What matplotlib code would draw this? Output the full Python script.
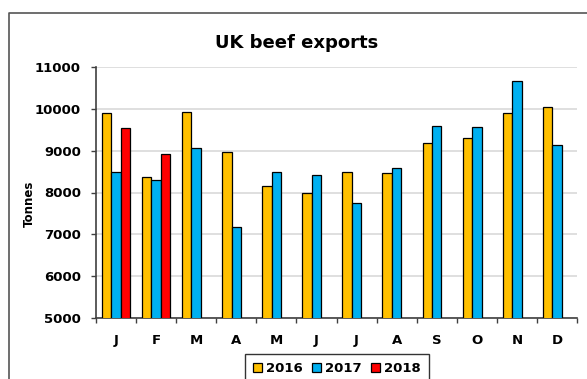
import numpy as np
import matplotlib
matplotlib.use("Agg")
import matplotlib.pyplot as plt
from matplotlib.lines import Line2D

months = ["J", "F", "M", "A", "M", "J", "J", "A", "S", "O", "N", "D"]
exports_2016 = [9900, 8370, 9920, 8970, 8160, 7985, 8500, 8475, 9190, 9310, 9900, 10035]
exports_2017 = [8500, 8290, 9070, 7170, 8500, 8420, 7745, 8580, 9600, 9570, 10665, 9135]
exports_2018 = [9540, 8920]

COLORS = {"2016": "#FFC000", "2017": "#00B0F0", "2018": "#FF0000"}


def main():
    plt.rcParams["font.family"] = "DejaVu Sans"
    plt.rcParams["font.weight"] = "bold"

    fig = plt.figure(figsize=(5.87, 3.79), dpi=100)
    ax = fig.add_axes([96 / 587, 1 - 318 / 379, (577 - 96) / 587, (318 - 67) / 379])

    # outer chart border (only top and left are in view)
    bx, by = 8.5 / 587, 1 - 13 / 379
    fig.lines.append(Line2D([bx, bx, 1.0], [0.0, by, by], transform=fig.transFigure,
                            color="#555555", linewidth=1.2))

    x = np.arange(len(months))
    w = 0.235
    ax.bar(x - w, exports_2016, w, color=COLORS["2016"],
           edgecolor="black", linewidth=0.9, label="2016", zorder=3)
    ax.bar(x, exports_2017, w, color=COLORS["2017"],
           edgecolor="black", linewidth=0.9, label="2017", zorder=3)
    ax.bar(x[:len(exports_2018)] + w, exports_2018, w, color=COLORS["2018"],
           edgecolor="black", linewidth=0.9, label="2018", zorder=3)

    ax.set_xlim(-0.5, len(months) - 0.5)
    ax.set_ylim(5000, 11000)
    ax.set_yticks(range(5000, 11001, 1000))
    ax.set_yticklabels([str(v) for v in range(5000, 11001, 1000)],
                       fontsize=9.5, fontweight="bold")

    # month labels in the middle, tick marks on the category edges
    ax.set_xticks(x)
    ax.set_xticklabels(months, fontsize=9.5, fontweight="bold")
    ax.tick_params(axis="x", which="major", length=0, pad=11.5)
    ax.set_xticks(np.arange(-0.5, len(months)), minor=True)
    ax.tick_params(axis="x", which="minor", length=3.8, width=1, color="#404040")
    ax.tick_params(axis="y", length=3.8, width=1, color="#404040", pad=7)

    ax.grid(axis="y", color="#D9D9D9", linewidth=1.2, zorder=0)
    ax.set_axisbelow(True)
    for side in ["top", "right"]:
        ax.spines[side].set_visible(False)
    for side in ["left", "bottom"]:
        ax.spines[side].set_color("#404040")
        ax.spines[side].set_linewidth(1.2)

    fig.text(297 / 587, 1 - 43 / 379, "UK beef exports", ha="center",
             va="center", fontsize=13, fontweight="bold")
    fig.text(29 / 587, 1 - 204 / 379, "Tonnes", rotation=90, ha="center",
             va="center", fontsize=8.5, fontweight="bold")

    leg = ax.legend(loc="upper center", bbox_to_anchor=(337 / 587, 1 - 354 / 379),
                    bbox_transform=fig.transFigure, ncol=3, fontsize=9.5,
                    frameon=True, fancybox=False, handlelength=0.7,
                    handleheight=0.7, handletextpad=0.3, columnspacing=0.7,
                    borderpad=0.6, borderaxespad=0)
    leg.get_frame().set_edgecolor("black")
    leg.get_frame().set_linewidth(1.0)
    for t in leg.get_texts():
        t.set_fontweight("bold")

    fig.savefig("out.png", dpi=100)


if __name__ == "__main__":
    main()
